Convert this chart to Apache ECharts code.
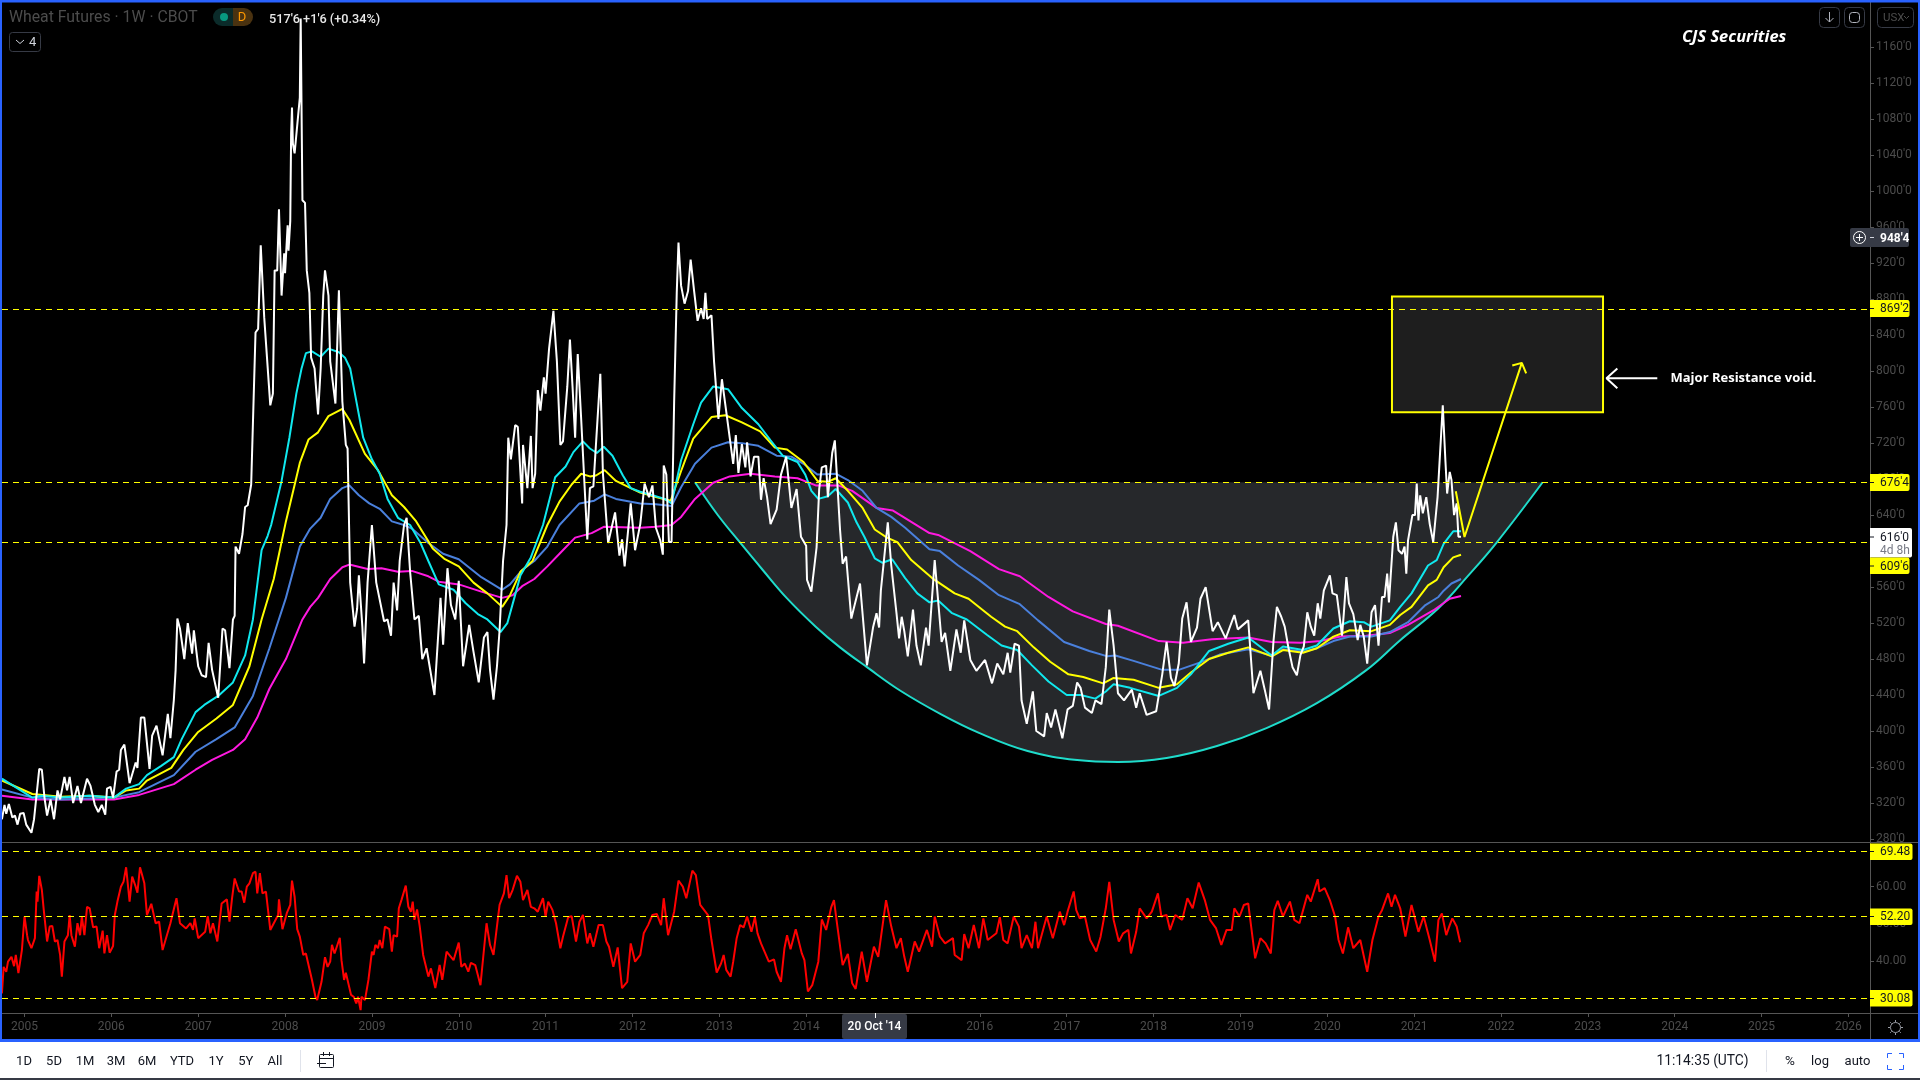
<!DOCTYPE html>
<html><head><meta charset="utf-8"><title>Wheat Futures</title>
<script src="https://cdn.jsdelivr.net/npm/echarts@6/dist/echarts.min.js"></script>
<style>html,body{margin:0;padding:0;background:#000}#c{width:1920px;height:1080px}</style></head>
<body><div id="c"></div>
<script>
const yearTicks=[2005,2006,2007,2008,2009,2010,2011,2012,2013,2014,2016,2017,2018,2019,2020,2021,2022,2023,2024,2025,2026];
const priceTicks=[280,320,360,400,440,480,520,560,600,640,680,720,760,800,840,880,920,960,1000,1040,1080,1120,1160];
const rsiTicks=[40,50,60];
const priceLevels=[869.25,676.5,609.75];
const rsiLevels=[69.48,52.2,30.08];
const wheatClose=[[2004.74,302],[2004.77,318],[2004.79,308],[2004.82,319],[2004.86,304],[2004.89,306],[2004.92,296],[2004.95,308],[2004.99,309],[2005.02,296],[2005.08,287],[2005.11,302],[2005.14,330],[2005.17,358],[2005.20,357],[2005.23,326],[2005.26,306],[2005.30,324],[2005.34,302],[2005.38,334],[2005.41,324],[2005.46,349],[2005.49,334],[2005.52,349],[2005.56,320],[2005.61,339],[2005.65,320],[2005.72,347],[2005.76,339],[2005.81,318],[2005.85,310],[2005.89,318],[2005.93,307],[2005.95,336],[2005.99,338],[2006.02,326],[2006.06,355],[2006.09,357],[2006.11,379],[2006.15,385],[2006.21,342],[2006.28,365],[2006.30,359],[2006.34,415],[2006.38,415],[2006.44,358],[2006.47,395],[2006.52,406],[2006.59,373],[2006.65,419],[2006.68,392],[2006.72,435],[2006.74,468],[2006.76,525],[2006.79,514],[2006.84,480],[2006.88,520],[2006.90,520],[2006.93,486],[2006.95,512],[2007.00,472],[2007.04,462],[2007.09,460],[2007.12,498],[2007.16,468],[2007.23,437],[2007.28,514],[2007.31,512],[2007.36,470],[2007.40,524],[2007.42,528],[2007.43,605],[2007.47,597],[2007.51,619],[2007.54,649],[2007.57,651],[2007.61,674],[2007.66,843],[2007.69,847],[2007.72,940],[2007.76,860],[2007.83,762],[2007.86,775],[2007.88,912],[2007.91,912],[2007.93,980],[2007.96,884],[2007.99,931],[2008.00,909],[2008.03,962],[2008.04,934],[2008.06,967],[2008.07,1064],[2008.08,1093],[2008.09,1053],[2008.11,1042],[2008.17,1104],[2008.18,1192],[2008.20,990],[2008.23,987],[2008.25,912],[2008.28,887],[2008.30,815],[2008.34,803],[2008.38,752],[2008.41,803],[2008.44,884],[2008.46,912],[2008.50,884],[2008.52,811],[2008.58,764],[2008.62,890],[2008.66,766],[2008.70,718],[2008.72,714],[2008.75,565],[2008.80,516],[2008.83,536],[2008.85,573],[2008.89,516],[2008.91,475],[2008.95,565],[2009.00,629],[2009.05,565],[2009.14,522],[2009.18,524],[2009.22,506],[2009.25,565],[2009.29,534],[2009.32,589],[2009.37,629],[2009.40,637],[2009.44,577],[2009.49,524],[2009.54,528],[2009.58,480],[2009.63,492],[2009.72,440],[2009.79,548],[2009.82,496],[2009.87,581],[2009.91,540],[2009.96,524],[2010.00,567],[2010.05,472],[2010.12,518],[2010.17,488],[2010.23,454],[2010.29,504],[2010.33,510],[2010.36,468],[2010.40,435],[2010.44,472],[2010.47,512],[2010.51,589],[2010.55,629],[2010.57,726],[2010.60,702],[2010.65,740],[2010.68,738],[2010.73,653],[2010.74,718],[2010.79,670],[2010.83,728],[2010.85,670],[2010.88,686],[2010.91,779],[2010.94,756],[2010.98,793],[2011.00,775],[2011.04,825],[2011.09,867],[2011.13,811],[2011.17,718],[2011.20,722],[2011.25,783],[2011.28,835],[2011.31,783],[2011.34,726],[2011.37,819],[2011.41,746],[2011.48,613],[2011.51,670],[2011.55,672],[2011.63,797],[2011.66,686],[2011.72,609],[2011.74,609],[2011.80,643],[2011.85,595],[2011.88,613],[2011.91,583],[2011.98,653],[2012.03,601],[2012.09,630],[2012.14,675],[2012.19,660],[2012.23,673],[2012.27,626],[2012.32,612],[2012.35,596],[2012.36,695],[2012.39,685],[2012.42,610],[2012.45,610],[2012.48,766],[2012.51,887],[2012.53,943],[2012.56,895],[2012.60,875],[2012.64,889],[2012.67,924],[2012.71,889],[2012.75,856],[2012.79,870],[2012.82,858],[2012.84,887],[2012.86,858],[2012.91,862],[2012.94,810],[2012.99,747],[2013.03,791],[2013.08,755],[2013.16,697],[2013.19,729],[2013.22,687],[2013.26,719],[2013.30,693],[2013.32,721],[2013.36,683],[2013.40,705],[2013.45,705],[2013.48,657],[2013.51,681],[2013.55,660],[2013.59,630],[2013.66,646],[2013.71,685],[2013.77,705],[2013.83,648],[2013.89,669],[2013.94,616],[2014.00,606],[2014.01,568],[2014.06,555],[2014.12,604],[2014.15,669],[2014.18,693],[2014.23,695],[2014.25,660],[2014.30,709],[2014.33,723],[2014.39,624],[2014.42,586],[2014.46,594],[2014.52,525],[2014.55,537],[2014.62,564],[2014.70,473],[2014.77,515],[2014.81,531],[2014.84,515],[2014.86,556],[2014.94,632],[2014.98,584],[2015.04,531],[2015.07,503],[2015.10,527],[2015.13,511],[2015.17,483],[2015.23,535],[2015.27,495],[2015.32,473],[2015.38,515],[2015.41,495],[2015.48,590],[2015.56,499],[2015.60,509],[2015.66,467],[2015.73,513],[2015.78,487],[2015.82,523],[2015.89,479],[2015.96,467],[2016.06,479],[2016.14,453],[2016.20,475],[2016.27,463],[2016.32,487],[2016.35,465],[2016.40,497],[2016.45,495],[2016.48,434],[2016.54,408],[2016.61,444],[2016.65,400],[2016.74,394],[2016.77,420],[2016.82,404],[2016.87,424],[2016.95,392],[2017.01,424],[2017.07,428],[2017.12,454],[2017.16,448],[2017.21,426],[2017.29,420],[2017.33,434],[2017.40,430],[2017.45,471],[2017.49,535],[2017.54,495],[2017.59,442],[2017.66,434],[2017.75,446],[2017.80,426],[2017.84,442],[2017.92,418],[2018.03,422],[2018.10,463],[2018.15,499],[2018.20,459],[2018.24,450],[2018.29,475],[2018.33,525],[2018.38,543],[2018.43,499],[2018.50,515],[2018.54,547],[2018.60,560],[2018.68,511],[2018.74,521],[2018.83,503],[2018.93,529],[2018.97,513],[2019.09,523],[2019.15,442],[2019.23,467],[2019.28,446],[2019.33,424],[2019.38,499],[2019.42,538],[2019.47,527],[2019.51,516],[2019.55,494],[2019.60,471],[2019.65,462],[2019.69,484],[2019.73,494],[2019.77,532],[2019.81,516],[2019.85,506],[2019.89,542],[2019.92,525],[2019.96,556],[2020.03,573],[2020.06,553],[2020.11,551],[2020.17,506],[2020.19,530],[2020.22,571],[2020.25,542],[2020.30,530],[2020.35,501],[2020.38,518],[2020.42,505],[2020.46,475],[2020.51,532],[2020.55,540],[2020.59,495],[2020.63,549],[2020.66,549],[2020.69,575],[2020.71,543],[2020.76,616],[2020.79,632],[2020.82,601],[2020.86,597],[2020.89,605],[2020.91,575],[2020.93,612],[2020.98,640],[2021.01,640],[2021.03,675],[2021.05,634],[2021.07,662],[2021.10,642],[2021.14,660],[2021.18,630],[2021.22,610],[2021.24,610],[2021.27,660],[2021.33,762],[2021.36,701],[2021.38,664],[2021.41,688],[2021.43,679],[2021.46,640],[2021.49,653],[2021.51,616],[2021.54,616]];
const maCyan=[[2004.74,347],[2005.09,326],[2005.19,328],[2005.42,326],[2005.75,328],[2006.03,326],[2006.17,336],[2006.32,341],[2006.41,351],[2006.57,361],[2006.72,371],[2006.81,391],[2006.97,421],[2007.07,429],[2007.23,439],[2007.40,454],[2007.54,484],[2007.63,524],[2007.73,601],[2007.80,617],[2007.84,629],[2007.96,678],[2008.05,726],[2008.13,775],[2008.19,803],[2008.24,820],[2008.31,822],[2008.41,816],[2008.50,825],[2008.62,821],[2008.69,815],[2008.75,803],[2008.82,767],[2008.90,726],[2009.00,702],[2009.09,686],[2009.18,658],[2009.30,637],[2009.44,629],[2009.56,609],[2009.65,589],[2009.77,563],[2009.94,557],[2010.08,542],[2010.22,530],[2010.33,524],[2010.48,510],[2010.56,520],[2010.64,548],[2010.71,573],[2010.83,593],[2010.97,629],[2011.11,682],[2011.23,694],[2011.32,710],[2011.43,722],[2011.51,714],[2011.59,709],[2011.67,716],[2011.77,706],[2011.89,684],[2011.98,670],[2012.09,666],[2012.23,662],[2012.37,658],[2012.45,653],[2012.56,701],[2012.70,741],[2012.79,765],[2012.93,783],[2013.10,780],[2013.26,759],[2013.45,741],[2013.59,723],[2013.73,706],[2013.90,699],[2013.99,685],[2014.06,667],[2014.14,658],[2014.25,661],[2014.34,669],[2014.48,654],[2014.58,632],[2014.67,616],[2014.79,592],[2014.88,587],[2014.99,591],[2015.14,570],[2015.28,553],[2015.42,543],[2015.52,545],[2015.68,531],[2015.85,524],[2016.08,507],[2016.25,495],[2016.43,490],[2016.60,473],[2016.79,455],[2017.00,440],[2017.16,440],[2017.33,436],[2017.45,444],[2017.54,452],[2017.73,448],[2018.06,439],[2018.27,448],[2018.43,463],[2018.64,489],[2018.86,497],[2019.09,504],[2019.36,484],[2019.49,494],[2019.72,490],[2019.88,495],[2020.07,514],[2020.26,522],[2020.42,521],[2020.51,516],[2020.72,523],[2020.84,538],[2020.97,553],[2021.16,584],[2021.26,590],[2021.34,608],[2021.45,622],[2021.54,622]];
const maYellow=[[2004.74,345],[2005.09,330],[2005.42,327],[2005.75,328],[2006.03,326],[2006.17,334],[2006.32,336],[2006.41,345],[2006.69,359],[2006.83,379],[2007.00,399],[2007.21,414],[2007.40,429],[2007.59,472],[2007.73,524],[2007.87,569],[2008.01,633],[2008.17,698],[2008.27,724],[2008.38,732],[2008.50,750],[2008.66,758],[2008.74,746],[2008.92,708],[2009.07,690],[2009.23,662],[2009.37,649],[2009.51,633],[2009.70,603],[2009.84,591],[2010.00,583],[2010.17,565],[2010.33,553],[2010.50,538],[2010.59,551],[2010.71,577],[2010.85,589],[2011.02,629],[2011.16,655],[2011.30,674],[2011.41,686],[2011.51,683],[2011.58,684],[2011.68,690],[2011.81,678],[2011.98,670],[2012.09,665],[2012.27,660],[2012.44,656],[2012.56,689],[2012.70,725],[2012.91,749],[2013.07,751],[2013.26,743],[2013.47,733],[2013.64,715],[2013.78,713],[2013.97,699],[2014.13,678],[2014.25,677],[2014.34,681],[2014.48,667],[2014.65,648],[2014.79,624],[2014.93,615],[2015.05,610],[2015.21,590],[2015.45,570],[2015.71,553],[2015.87,547],[2016.13,527],[2016.29,516],[2016.43,511],[2016.62,493],[2016.81,477],[2017.02,463],[2017.19,460],[2017.42,453],[2017.54,459],[2017.77,457],[2018.06,448],[2018.27,452],[2018.43,465],[2018.64,480],[2018.86,487],[2019.09,493],[2019.36,483],[2019.49,490],[2019.72,487],[2019.88,492],[2020.07,505],[2020.26,512],[2020.51,511],[2020.72,518],[2020.84,529],[2020.97,538],[2021.16,562],[2021.26,568],[2021.34,582],[2021.45,593],[2021.54,596]];
const maBlue=[[2004.74,335],[2005.09,326],[2005.42,324],[2006.03,326],[2006.32,332],[2006.72,351],[2006.97,377],[2007.21,391],[2007.42,404],[2007.63,439],[2007.82,492],[2008.01,548],[2008.17,605],[2008.29,625],[2008.41,637],[2008.52,658],[2008.66,670],[2008.74,673],[2008.85,662],[2008.97,653],[2009.09,647],[2009.23,633],[2009.37,629],[2009.46,625],[2009.65,609],[2009.82,597],[2010.00,591],[2010.26,571],[2010.50,557],[2010.59,563],[2010.73,579],[2010.87,589],[2011.02,605],[2011.16,629],[2011.39,653],[2011.56,656],[2011.68,663],[2011.81,658],[2012.09,653],[2012.27,652],[2012.45,650],[2012.56,671],[2012.72,697],[2012.91,715],[2013.10,721],[2013.26,720],[2013.45,717],[2013.66,706],[2013.83,705],[2013.97,697],[2014.13,685],[2014.34,686],[2014.48,679],[2014.65,667],[2014.81,648],[2014.98,638],[2015.14,626],[2015.42,602],[2015.54,600],[2015.75,584],[2015.99,568],[2016.22,551],[2016.46,541],[2016.67,523],[2016.97,499],[2017.26,489],[2017.47,483],[2017.56,484],[2017.77,478],[2018.10,468],[2018.29,468],[2018.53,476],[2018.76,485],[2019.09,491],[2019.36,484],[2019.49,491],[2019.72,488],[2019.88,492],[2020.07,500],[2020.26,505],[2020.51,505],[2020.72,510],[2020.93,521],[2021.13,540],[2021.28,549],[2021.34,556],[2021.43,564],[2021.54,569]];
const maMagenta=[[2004.74,328],[2005.09,324],[2006.03,324],[2006.32,329],[2006.72,341],[2006.97,357],[2007.16,368],[2007.40,379],[2007.54,391],[2007.68,415],[2007.82,447],[2008.01,480],[2008.20,524],[2008.29,538],[2008.38,548],[2008.52,569],[2008.66,582],[2008.74,585],[2008.95,580],[2009.11,581],[2009.30,577],[2009.46,578],[2009.65,572],[2009.77,566],[2010.00,563],[2010.26,555],[2010.50,548],[2010.62,551],[2010.73,561],[2010.87,569],[2011.02,583],[2011.16,597],[2011.34,615],[2011.53,620],[2011.67,627],[2012.09,626],[2012.27,627],[2012.45,629],[2012.56,638],[2012.72,658],[2012.93,676],[2013.12,683],[2013.36,686],[2013.64,683],[2013.90,681],[2014.11,673],[2014.37,673],[2014.53,667],[2014.81,648],[2015.00,645],[2015.42,620],[2015.52,618],[2015.89,600],[2016.22,580],[2016.46,572],[2016.79,549],[2017.07,533],[2017.45,519],[2017.59,517],[2018.06,500],[2018.34,498],[2018.67,502],[2019.09,504],[2019.36,499],[2019.69,498],[2019.92,500],[2020.15,505],[2020.45,506],[2020.72,509],[2020.93,518],[2021.22,534],[2021.41,547],[2021.54,550]];
const rsi=[[2004.74,31.4],[2004.76,38.5],[2004.79,37.2],[2004.81,39.9],[2004.85,41.2],[2004.88,38.7],[2004.90,41.7],[2004.93,36.8],[2004.97,43.0],[2005.00,52.0],[2005.03,47.0],[2005.04,45.7],[2005.08,43.5],[2005.12,46.2],[2005.14,58.7],[2005.15,56.0],[2005.17,62.9],[2005.20,59.1],[2005.22,54.2],[2005.26,45.3],[2005.29,49.3],[2005.32,49.5],[2005.35,45.3],[2005.38,45.7],[2005.41,41.7],[2005.43,35.9],[2005.46,45.3],[2005.50,47.0],[2005.52,52.4],[2005.54,47.0],[2005.58,43.9],[2005.61,50.2],[2005.64,47.0],[2005.66,52.0],[2005.69,47.0],[2005.72,54.6],[2005.75,54.2],[2005.79,49.1],[2005.83,49.3],[2005.86,43.5],[2005.90,48.2],[2005.92,42.1],[2005.95,47.0],[2005.98,42.3],[2006.02,44.1],[2006.04,52.4],[2006.07,56.0],[2006.09,56.0],[2006.11,60.0],[2006.14,61.3],[2006.17,65.2],[2006.21,56.0],[2006.24,62.7],[2006.28,60.0],[2006.30,58.4],[2006.33,65.2],[2006.38,60.9],[2006.41,52.4],[2006.46,55.4],[2006.51,50.2],[2006.55,50.6],[2006.59,43.0],[2006.68,50.2],[2006.75,56.9],[2006.79,50.2],[2006.86,48.8],[2006.91,50.2],[2006.94,48.4],[2006.96,51.5],[2007.00,46.2],[2007.08,47.9],[2007.11,52.1],[2007.14,47.5],[2007.17,50.2],[2007.22,45.3],[2007.27,55.5],[2007.33,56.6],[2007.36,50.6],[2007.39,56.9],[2007.42,62.2],[2007.47,58.7],[2007.50,58.7],[2007.53,55.7],[2007.56,60.0],[2007.59,60.9],[2007.63,63.6],[2007.66,64.0],[2007.68,58.2],[2007.71,63.6],[2007.74,58.2],[2007.78,58.7],[2007.83,48.4],[2007.92,52.4],[2007.93,56.6],[2007.97,48.6],[2008.02,52.9],[2008.06,55.1],[2008.08,61.6],[2008.11,57.3],[2008.14,48.6],[2008.17,46.6],[2008.21,41.7],[2008.24,42.1],[2008.31,35.0],[2008.35,30.5],[2008.37,29.6],[2008.42,34.5],[2008.46,41.1],[2008.49,38.5],[2008.52,39.9],[2008.54,44.4],[2008.57,42.1],[2008.63,46.3],[2008.65,40.3],[2008.68,35.0],[2008.70,36.9],[2008.76,31.0],[2008.79,30.5],[2008.82,28.7],[2008.84,30.5],[2008.87,26.9],[2008.88,30.5],[2008.92,29.6],[2008.96,35.0],[2009.00,42.6],[2009.02,41.7],[2009.04,44.4],[2009.07,43.5],[2009.09,45.7],[2009.12,43.5],[2009.15,49.3],[2009.20,48.6],[2009.23,42.6],[2009.25,47.0],[2009.29,46.6],[2009.31,54.2],[2009.34,56.4],[2009.39,60.3],[2009.42,54.6],[2009.45,53.3],[2009.47,56.0],[2009.49,51.1],[2009.52,53.9],[2009.55,49.5],[2009.59,41.7],[2009.65,35.9],[2009.68,38.1],[2009.73,32.8],[2009.78,39.0],[2009.81,35.0],[2009.86,42.6],[2009.94,40.3],[2010.00,45.0],[2010.03,38.5],[2010.07,39.4],[2010.11,37.2],[2010.14,39.6],[2010.19,39.0],[2010.25,33.6],[2010.32,50.2],[2010.36,44.4],[2010.40,41.7],[2010.47,55.1],[2010.52,58.2],[2010.55,63.1],[2010.58,56.9],[2010.62,59.1],[2010.67,62.9],[2010.71,61.3],[2010.74,56.4],[2010.79,59.1],[2010.83,54.6],[2010.87,54.2],[2010.91,53.3],[2010.97,56.9],[2011.00,52.0],[2011.03,56.0],[2011.08,53.7],[2011.12,50.2],[2011.17,43.5],[2011.20,46.6],[2011.26,51.8],[2011.30,52.1],[2011.35,45.3],[2011.39,50.6],[2011.43,52.4],[2011.48,44.8],[2011.51,47.5],[2011.55,43.9],[2011.61,49.7],[2011.66,49.7],[2011.70,45.3],[2011.73,43.9],[2011.78,38.5],[2011.83,43.7],[2011.88,32.8],[2011.94,34.5],[2011.98,44.8],[2012.03,39.9],[2012.09,41.7],[2012.13,47.5],[2012.18,49.7],[2012.23,52.4],[2012.28,52.7],[2012.33,49.7],[2012.36,56.9],[2012.41,47.0],[2012.48,53.3],[2012.53,61.6],[2012.58,60.0],[2012.62,56.9],[2012.69,64.3],[2012.73,63.1],[2012.78,55.1],[2012.87,52.4],[2012.91,45.7],[2012.97,37.0],[2013.02,39.4],[2013.05,41.7],[2013.08,37.7],[2013.13,35.9],[2013.16,39.9],[2013.20,46.2],[2013.24,49.7],[2013.28,49.1],[2013.32,52.0],[2013.37,47.9],[2013.41,51.8],[2013.44,47.5],[2013.48,44.8],[2013.57,39.9],[2013.63,40.5],[2013.66,37.2],[2013.71,34.5],[2013.75,43.5],[2013.78,47.0],[2013.82,43.2],[2013.88,48.6],[2013.95,42.1],[2013.98,40.3],[2014.02,31.9],[2014.07,33.6],[2014.14,39.9],[2014.18,51.2],[2014.23,48.4],[2014.29,54.6],[2014.32,56.4],[2014.36,49.3],[2014.42,39.0],[2014.48,42.0],[2014.53,34.1],[2014.57,32.6],[2014.64,42.6],[2014.70,34.5],[2014.78,43.9],[2014.83,41.2],[2014.92,56.4],[2014.98,49.3],[2015.04,43.5],[2015.09,46.2],[2015.13,41.2],[2015.17,37.2],[2015.25,45.3],[2015.30,42.6],[2015.39,48.4],[2015.45,43.9],[2015.48,52.0],[2015.54,46.6],[2015.60,44.8],[2015.69,46.2],[2015.71,41.7],[2015.79,40.3],[2015.82,47.3],[2015.87,43.5],[2015.93,49.7],[2015.99,43.5],[2016.04,51.5],[2016.09,45.7],[2016.19,47.5],[2016.23,51.8],[2016.27,45.7],[2016.32,44.8],[2016.39,52.0],[2016.45,49.3],[2016.48,43.5],[2016.54,47.0],[2016.60,43.5],[2016.64,50.6],[2016.67,43.5],[2016.77,52.0],[2016.84,46.2],[2016.92,53.3],[2016.97,49.7],[2017.01,53.3],[2017.08,58.7],[2017.11,53.7],[2017.15,51.5],[2017.21,52.0],[2017.27,45.7],[2017.34,42.6],[2017.39,46.6],[2017.45,54.2],[2017.49,61.3],[2017.54,51.1],[2017.60,45.3],[2017.65,47.5],[2017.71,48.4],[2017.74,42.1],[2017.80,47.9],[2017.84,54.2],[2017.92,51.5],[2017.98,53.3],[2018.05,58.2],[2018.09,52.0],[2018.15,52.4],[2018.19,48.4],[2018.25,52.4],[2018.33,51.1],[2018.39,56.9],[2018.45,54.2],[2018.52,61.1],[2018.59,56.4],[2018.65,51.1],[2018.72,48.8],[2018.78,44.4],[2018.84,48.4],[2018.90,48.4],[2018.93,54.2],[2018.99,52.0],[2019.04,55.1],[2019.09,55.5],[2019.17,40.8],[2019.23,46.2],[2019.29,44.8],[2019.35,42.1],[2019.39,53.7],[2019.43,56.2],[2019.49,52.0],[2019.57,56.0],[2019.62,51.1],[2019.68,50.2],[2019.77,57.8],[2019.81,56.0],[2019.89,62.0],[2019.91,58.7],[2019.97,59.6],[2020.03,56.4],[2020.09,52.0],[2020.13,45.7],[2020.18,42.1],[2020.24,49.1],[2020.30,43.5],[2020.38,45.7],[2020.46,37.2],[2020.52,45.7],[2020.59,52.0],[2020.63,53.7],[2020.70,58.2],[2020.74,54.6],[2020.78,57.8],[2020.84,54.2],[2020.90,46.6],[2020.97,55.1],[2021.05,47.9],[2021.11,52.0],[2021.18,45.7],[2021.24,39.9],[2021.28,51.1],[2021.32,52.8],[2021.37,47.0],[2021.41,49.7],[2021.44,51.5],[2021.49,49.3],[2021.53,45.1]];
const bowlArc=[[2012.72,676.5],[2012.98,640.4],[2013.24,609.3],[2013.50,579],[2013.78,547.4],[2014.11,516],[2014.39,493],[2014.70,471],[2015.09,444.5],[2015.56,418.3],[2015.99,398],[2016.55,377.8],[2017.12,367.7],[2017.59,365.5],[2018.15,370],[2018.73,383.3],[2019.30,403.3],[2019.88,431],[2020.45,467.7],[2020.84,501],[2021.28,536.5],[2021.61,571.3],[2021.95,609.5],[2022.48,676.5]];
const voidBox=[[2020.745,883],[2023.175,754.2]];
const yellowArrow=[[2021.48,666.5],[2021.58,615.7],[2022.24,809.2],[2022.13,806.3],[2022.24,809.2],[2022.29,797.5]];
const whiteArrow=[[2023.80,792],[2023.215,792],[2023.34,803],[2023.215,792],[2023.34,781]];

const F='Roboto, sans-serif';
const MUTED='#4c4c4c';
function rect(x,y,w,h,fill,extra){return {type:'rect',z:100,silent:true,shape:{x,y,width:w,height:h,r:(extra&&extra.r)||0},style:{fill}};}
function stroke(x,y,w,h,col,r){return {type:'rect',z:101,silent:true,shape:{x,y,width:w,height:h,r:r||0},style:{fill:null,stroke:col,lineWidth:1}};}
function text(x,y,t,size,col,opt){opt=opt||{};return {type:'text',z:102,silent:true,x,y,style:{text:t,fontSize:size,fill:col,fontFamily:opt.f||F,fontWeight:opt.w||'normal',fontStyle:opt.i||'normal',textAlign:opt.a||'left',textVerticalAlign:'middle'}};}
function ln(x1,y1,x2,y2,col,lw){return {type:'line',z:101,silent:true,shape:{x1,y1,x2,y2},style:{stroke:col,lineWidth:lw||1}};}
function poly(pts,col,lw){return {type:'polyline',z:101,silent:true,shape:{points:pts},style:{fill:null,stroke:col,lineWidth:lw||1}};}
function priceTag(y0,h,w,t,fill,mid){return [rect(1870,y0,w,h,fill,{r:[0,2,2,0]}),ln(1870,mid,1874,mid,'#131722'),text(1880,mid+0.5,t,12,'#131722')];}

const SEP='#555555';
let g=[
 rect(0,0,1920,2.5,'#2962ff'),rect(0,0,2,1042,'#2962ff'),rect(1918,0,2,1042,'#2962ff'),rect(0,1039,1920,3,'#2962ff'),
 rect(0,1042,1920,36,'#ffffff'),rect(0,1078,1920,2,'#363a45'),
 ln(2,842.5,1918,842.5,SEP),ln(2,1013.5,1918,1013.5,SEP),ln(1870.5,1013,1870.5,1039,SEP),
 text(9,18.5,'Wheat Futures · 1W · CBOT',15.8,MUTED),
 rect(213,8,20,18,'#0b2b2a',{r:[9,0,0,9]}),rect(233,8,20,18,'#4a3210',{r:[0,9,9,0]}),
 {type:'circle',z:101,silent:true,shape:{cx:224,cy:17,r:4},style:{fill:'#089981'}},
 text(242,18,'D',13,'#ff9800',{a:'center'}),
 text(269,19.5,"517'6 +1'6 (+0.34%)",12.7,'#e8e8e8',{w:500}),
 stroke(9.5,32.5,31,19,'#363a45',3),
 poly([[16,40],[20,43.5],[24,40]],'#d1d4dc'),
 text(29,42.5,'4',13,'#d1d4dc'),
 stroke(1819.5,7.5,20,20,'#363a45',4),stroke(1844.5,7.5,20,20,'#363a45',4),stroke(1877.5,7.5,36,20,'#363a45',4),
 poly([[1829.5,12],[1829.5,22]],'#b2b5be'),poly([[1825.5,18],[1829.5,22],[1833.5,18]],'#b2b5be'),
 stroke(1849.5,12.5,10,10,'#b2b5be',3),
 text(1883,18,'USX',11.5,MUTED),
 poly([[1904,16],[1906.5,18.5],[1909,16]],MUTED),
 text(1682,37,'CJS Securities',16.4,'#ffffff',{w:'bold',i:'italic',f:'"Open Sans"'}),
 text(1670.5,378.5,'Major Resistance void.',13,'#ffffff',{w:'bold',f:'"Open Sans"'}),
 rect(1850,228,59,19,'#363a45',{r:2}),
 {type:'circle',z:101,silent:true,shape:{cx:1859.5,cy:237.5,r:6},style:{fill:null,stroke:'#ffffff',lineWidth:1}},
 ln(1856,237.5,1863,237.5,'#ffffff'),ln(1859.5,234,1859.5,241,'#ffffff'),
 ln(1870,237.5,1874,237.5,'#d1d4dc'),
 text(1880,238.5,"948'4",12,'#ffffff',{w:'bold'}),
 ...priceTag(300,17,39.5,"869'2",'#ffff00',308.5),
 ...priceTag(474,17,39.5,"676'4",'#ffff00',482.5),
 rect(1870,528,42,29.5,'#ffffff',{r:[0,2,2,0]}),ln(1870,537,1874,537,'#131722'),
 text(1880,538,"616'0",12,'#131722'),text(1880,551,'4d 8h',12,'#787b86'),
 ...priceTag(557.5,16.5,39.5,"609'6",'#ffff00',566),
 ...priceTag(843.5,16.5,42.5,'69.48','#ffff00',851.5),
 ...priceTag(908.5,16.5,42.5,'52.20','#ffff00',916.5),
 ...priceTag(990,16.5,42.5,'30.08','#ffff00',998.5),
 rect(842,1014,65,25,'#363a45',{r:2}),ln(875.5,1013,875.5,1018,'#ffffff'),
 text(874.5,1027,"20 Oct '14",12,'#ffffff',{a:'center',w:500}),
 {type:'circle',z:101,silent:true,shape:{cx:1895.5,cy:1027.5,r:5},style:{fill:null,stroke:'#9a9da6',lineWidth:1}},
 ln(1895.5,1020,1895.5,1022,'#9a9da6'),ln(1895.5,1033,1895.5,1035,'#9a9da6'),ln(1888,1027.5,1890,1027.5,'#9a9da6'),ln(1901,1027.5,1903,1027.5,'#9a9da6'),
 ln(1890.2,1022.2,1891.6,1023.6,'#9a9da6'),ln(1899.4,1031.4,1900.8,1032.8,'#9a9da6'),ln(1890.2,1032.8,1891.6,1031.4,'#9a9da6'),ln(1899.4,1023.6,1900.8,1022.2,'#9a9da6'),
 text(24,1061.5,'1D',13,'#131722',{a:'center'}),text(54,1061.5,'5D',13,'#131722',{a:'center'}),text(85,1061.5,'1M',13,'#131722',{a:'center'}),
 text(116,1061.5,'3M',13,'#131722',{a:'center'}),text(147,1061.5,'6M',13,'#131722',{a:'center'}),text(182,1061.5,'YTD',13,'#131722',{a:'center'}),
 text(216,1061.5,'1Y',13,'#131722',{a:'center'}),text(245.7,1061.5,'5Y',13,'#131722',{a:'center'}),text(275,1061.5,'All',13,'#131722',{a:'center'}),
 ln(300.5,1050,300.5,1072,'#e0e3eb'),
 stroke(319.5,1054.5,14,13,'#131722',1),ln(319,1058.5,334,1058.5,'#131722'),ln(323.5,1052,323.5,1056,'#131722'),ln(329.5,1052,329.5,1056,'#131722'),
 ln(317,1063.5,326,1063.5,'#131722'),
 text(1656.5,1062,'11:14:35 (UTC)',13.8,'#131722'),
 ln(1766.5,1050,1766.5,1072,'#e0e3eb'),
 text(1790,1061.5,'%',13.5,'#131722',{a:'center'}),text(1820,1061.5,'log',13,'#131722',{a:'center'}),text(1857.5,1061.5,'auto',13,'#131722',{a:'center'}),
 poly([[1887.5,1058],[1887.5,1053.5],[1892,1053.5]],'#2962ff'),poly([[1899,1053.5],[1903.5,1053.5],[1903.5,1058]],'#2962ff'),
 poly([[1887.5,1065],[1887.5,1069.5],[1892,1069.5]],'#2962ff'),poly([[1899,1069.5],[1903.5,1069.5],[1903.5,1065]],'#2962ff')
];

const base=(name,data,color,xi,width)=>({name,type:'line',xAxisIndex:xi,yAxisIndex:xi,data,showSymbol:false,symbol:'none',smooth:false,animation:false,silent:true,z:3,lineStyle:{color,width:width||2}});
const mlMain=priceLevels.map(v=>({yAxis:v}));
const mlRsi=rsiLevels.map(v=>({yAxis:v}));
const dash={color:'#ffff00',width:1,type:[6,5]};

const option={
 backgroundColor:'#000000',animation:false,
 grid:[{left:2,top:2,width:1868,height:840},{left:2,top:842,width:1868,height:171}],
 xAxis:[
  {type:'value',gridIndex:0,min:2004.741,max:2026.249,show:false,splitLine:{show:false}},
  {type:'value',gridIndex:1,min:2004.741,max:2026.249,splitLine:{show:false},axisLine:{show:false},
   axisTick:{show:true,length:4,lineStyle:{color:SEP},customValues:yearTicks},
   axisLabel:{show:true,customValues:yearTicks,color:MUTED,fontSize:12,fontFamily:F,margin:8,formatter:v=>String(Math.round(v))}}
 ],
 yAxis:[
  {type:'value',gridIndex:0,position:'right',min:276.67,max:1210.3,splitLine:{show:false},axisLine:{show:true,lineStyle:{color:SEP}},
   axisTick:{show:true,length:4,lineStyle:{color:SEP},customValues:priceTicks},
   axisLabel:{show:true,customValues:priceTicks,color:MUTED,fontSize:12,fontFamily:F,margin:6,padding:[4,0,0,0],formatter:v=>v+"'0"}},
  {type:'value',gridIndex:1,position:'right',min:26.14,max:71.97,splitLine:{show:false},axisLine:{show:true,lineStyle:{color:SEP}},
   axisTick:{show:true,length:4,lineStyle:{color:SEP},customValues:rsiTicks},
   axisLabel:{show:true,customValues:rsiTicks,color:MUTED,fontSize:12,fontFamily:F,margin:6,padding:[3,0,0,0],formatter:v=>v.toFixed(2)}}
 ],
 series:[
  Object.assign(base('Cup',bowlArc,'#1fdccb',0),{z:1,smooth:0.4,areaStyle:{color:'#26282b',opacity:1,origin:676.5}}),
  Object.assign(base('Void',[],'#ffff00',0),{z:1,markArea:{z:1,silent:true,itemStyle:{color:'#1e1e1e',borderColor:'#ffff00',borderWidth:2},label:{show:false},
    data:[[{coord:voidBox[0]},{coord:voidBox[1]}]]}}),
  Object.assign(base('Levels',[],'#ffff00',0),{z:2,markLine:{silent:true,symbol:'none',label:{show:false},lineStyle:dash,animation:false,data:mlMain}}),
  base('MA magenta',maMagenta,'#ff19e0',0),
  base('MA blue',maBlue,'#4a80dc',0),
  base('MA yellow',maYellow,'#ffff00',0),
  base('MA cyan',maCyan,'#10e8ee',0),
  base('Wheat',wheatClose,'#ffffff',0),
  Object.assign(base('Target',yellowArrow,'#ffff00',0),{z:4}),
  Object.assign(base('Note arrow',whiteArrow,'#ffffff',0),{z:4}),
  Object.assign(base('RSI',rsi,'#ff0000',1),{z:3}),
  Object.assign(base('RSI levels',[],'#ffff00',1),{z:2,markLine:{silent:true,symbol:'none',label:{show:false},lineStyle:dash,animation:false,data:mlRsi}})
 ],
 graphic:{elements:g}
};
const chart=echarts.init(document.getElementById('c'),null,{renderer:'canvas'});
chart.setOption(option);
</script></body></html>
